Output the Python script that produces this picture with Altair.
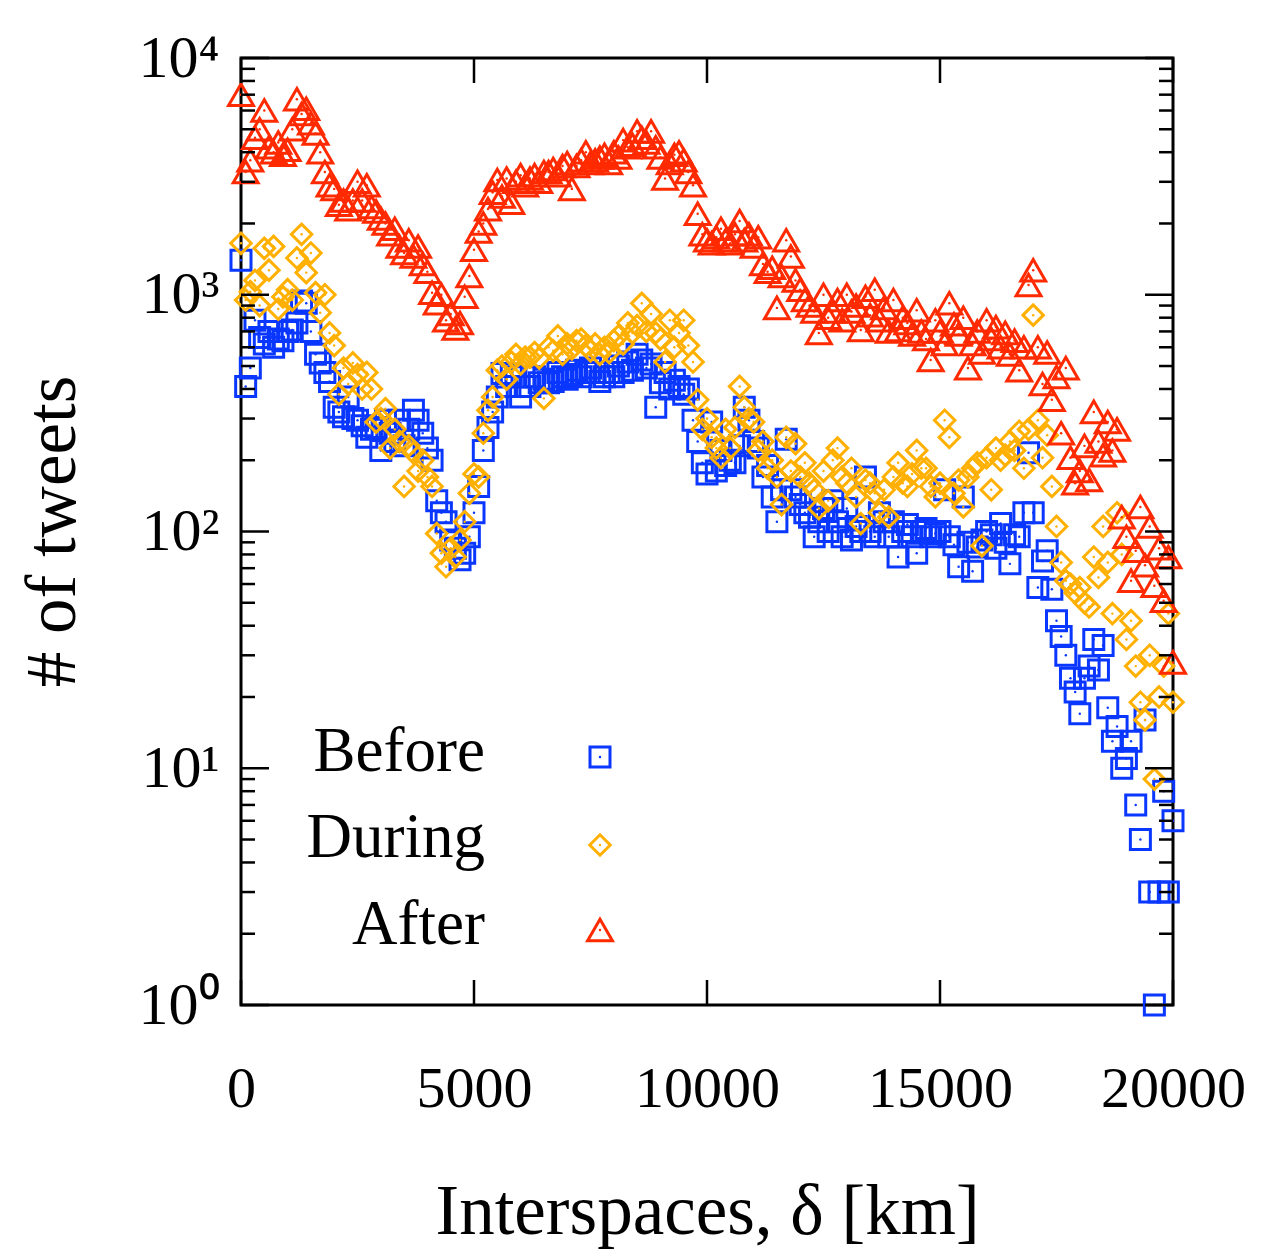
import altair as alt
import pandas as pd

# ---------------- data ----------------
KM = list(range(0, 20001, 100))

BEFORE = [
    1400, 410, 490, 780, 660, 620, 700, 600, 650, 640,
    700, 710, 760, 940, 920, 700, 560, 515, 470, 430,
    335, 320, 305, 370, 300, 295, 280, 250, 270, 275,
    220, 295, 260, 240, 295, 230, 270, 325, 295, 260,
    225, 200, 135, 120, 110, 92, 85, 76, 81, 95,
    120, 155, 220, 275, 320, 370, 465, 410, 465, 450,
    370, 410, 410, 450, 425, 440, 425, 430, 470, 450,
    440, 460, 480, 450, 470, 490, 470, 430, 450, 470,
    450, 500, 470, 520, 480, 560, 530, 490, 510, 335,
    425, 470, 400, 435, 410, 380, 400, 295, 240, 195,
    175, 290, 180, 220, 190, 200, 195, 230, 335, 295,
    240, 225, 170, 190, 140, 110, 150, 245, 150, 140,
    130, 120, 115, 95, 110, 125, 100, 135, 110, 95,
    125, 92, 105, 100, 170, 100, 95, 120, 110, 95,
    110, 78, 100, 107, 95, 81, 100, 103, 95, 98,
    100, 150, 95, 88, 71, 140, 90, 68, 86, 92,
    100, 97, 85, 108, 90, 73, 97, 95, 120, 215,
    120, 58, 75, 83, 57, 42, 36, 30, 24, 21,
    17, 24, 27, 35, 26, 33, 18, 13, 15, 10,
    11, 13, 7, 5, 16, 3, 1, 3, 8, 3,
    6,
]

DURING = [
    1650, 950, 1030, 1150, 900, 1570, 1270, 1600, 870, 980,
    1050, 950, 1430, 1800, 1240, 1500, 1020, 840, 1000, 690,
    610, 380, 490, 420, 515, 460, 400, 470, 400, 290,
    300, 330, 225, 270, 240, 155, 230, 215, 180, 200,
    170, 155, 98, 81, 71, 85, 78, 92, 110, 145,
    175, 170, 260, 325, 370, 480, 500, 440, 520, 560,
    510, 545, 545, 570, 540, 365, 600, 580, 670, 560,
    620, 590, 640, 650, 610, 580, 620, 560, 600, 570,
    640, 670, 620, 760, 690, 740, 920, 700, 830, 690,
    650, 520, 780, 600, 690, 780, 610, 520, 360, 270,
    300, 250, 225, 205, 270, 225, 275, 410, 335, 300,
    290, 220, 240, 185, 200, 170, 130, 250, 180, 235,
    170, 195, 160, 150, 125, 180, 135, 200, 225, 170,
    160, 185, 140, 108, 165, 160, 145, 120, 150, 115,
    170, 195, 160, 155, 175, 220, 185, 185, 155, 140,
    160, 295, 250, 145, 165, 127, 170, 185, 195, 87,
    205, 150, 225, 200, 210, 240, 220, 265, 185, 270,
    820, 295, 205, 255, 155, 105, 74, 62, 60, 55,
    58, 50, 48, 78, 64, 105, 74, 45, 120, 80,
    35, 42, 27, 19, 16, 30, 9, 20, 27, 45,
    19,
]

AFTER = [
    7000, 3300, 3700, 4600, 5000, 6000, 4200, 4000, 4400, 3900,
    4100, 5000, 6700, 5800, 6100, 5300, 4800, 4000, 3300, 2900,
    2800, 2400, 2500, 2300, 2500, 3000, 2500, 2900, 2350, 2250,
    2100, 2000, 1800, 1900, 1600, 1500, 1700, 1450, 1600, 1350,
    1250, 1020, 920, 1000, 780, 830, 720, 760, 980, 1200,
    1550, 1850, 2000, 2300, 2700, 3050, 2600, 3100, 2450, 3000,
    3200, 2900, 3100, 3200, 3000, 3300, 3300, 3400, 3200, 3500,
    3600, 2800, 3500, 3700, 4000, 3600, 3700, 3800, 3900, 3600,
    4000, 3800, 4500, 4200, 4300, 4900, 4600, 4400, 4900, 4200,
    3800, 3100, 3600, 3900, 4000, 3700, 3300, 2900, 2200, 1800,
    1700, 1650, 1750, 1900, 1700, 1650, 1800, 2050, 1700, 1800,
    1600, 1750, 1350, 1250, 1300, 880, 1200, 1700, 1450, 1150,
    1050, 950, 900, 850, 690, 1000, 800, 850, 950, 780,
    1000, 850, 900, 710, 980, 820, 1050, 780, 880, 700,
    950, 710, 800, 760, 680, 860, 700, 650, 530, 780,
    700, 620, 920, 750, 680, 800, 490, 620, 700, 570,
    780, 650, 730, 600, 690, 560, 640, 480, 600, 1100,
    1270, 600, 420, 570, 360, 450, 260, 490, 205, 160,
    180, 230, 165, 320, 240, 210, 290, 220, 270, 115,
    95, 62, 83, 127, 72, 105, 59, 85, 51, 78,
    28,
]

SERIES = ["Before", "During", "After"]
VALUES = [BEFORE, DURING, AFTER]
COLORS = ["#0a37ff", "#ffb000", "#ff2a00"]
SHAPES = ["square", "diamond", "triangle-up"]
SIZES = [400, 420, 620]

X_TICKS = [0, 5000, 10000, 15000, 20000]
Y_MAJOR = [1, 10, 100, 1000, 10000]
Y_MINOR = [m * 10 ** e for e in range(4) for m in range(2, 10)]

# ---------------- layout ----------------
W, H = 932, 947
FONT = "Liberation Serif"

xscale = alt.Scale(domain=[0, 20000], nice=False, zero=False)
yscale = alt.Scale(type="log", domain=[1, 10000], nice=False)

y_label_expr = (
    "datum.value == 1 ? '10\u2070' : datum.value == 10 ? '10\u00b9' : "
    "datum.value == 100 ? '10\u00b2' : datum.value == 1000 ? '10\u00b3' : '10\u2074'"
)

x_axis = alt.Axis(
    values=X_TICKS, format="d", labelFont=FONT, labelFontSize=58, labelColor="black",
    labelPadding=55, labelFlush=False, labelOverlap=False, ticks=False, domain=False,
    grid=False, title="Interspaces, \u03b4 [km]", titleFont=FONT, titleFontSize=71,
    titleFontWeight="normal", titleColor="black", titleY=228, titleBaseline="alphabetic",
)
y_axis = alt.Axis(
    values=Y_MAJOR, labelExpr=y_label_expr, labelFont=FONT, labelFontSize=60,
    labelColor="black", labelPadding=22, labelFlush=False, labelOverlap=False,
    ticks=False, domain=False, grid=False, title="# of tweets", titleFont=FONT,
    titleFontSize=71, titleFontWeight="normal", titleColor="black", titleX=-167,
    titleY=473, titleAngle=270, titleBaseline="alphabetic",
)

X = alt.X("km:Q", scale=xscale, axis=x_axis)
Y = alt.Y("n:Q", scale=yscale, axis=y_axis)

layers = []
for name, vals, col, shp, sz in zip(SERIES, VALUES, COLORS, SHAPES, SIZES):
    df = pd.DataFrame({"km": KM, "n": vals})
    base = alt.Chart(df)
    layers.append(
        base.mark_point(shape=shp, size=sz, filled=False, stroke=col, strokeWidth=3, opacity=1)
        .encode(x=X, y=Y)
    )
    layers.append(
        base.mark_point(shape="circle", size=6, filled=True, color=col, opacity=1)
        .encode(x=X, y=Y)
    )

# ---------------- inward ticks (mirrored on all sides) ----------------
xt = alt.Chart(pd.DataFrame({"km": X_TICKS}))
for y0, y1 in [(H, H - 25), (0, 25)]:
    layers.append(
        xt.mark_rule(color="black", strokeWidth=2.5).encode(
            x=X, y=alt.value(y0), y2=alt.value(y1)
        )
    )
for ticks, ln in [(Y_MAJOR, 28), (Y_MINOR, 14)]:
    yt = alt.Chart(pd.DataFrame({"n": ticks}))
    for x0, x1 in [(0, ln), (W, W - ln)]:
        layers.append(
            yt.mark_rule(color="black", strokeWidth=2.5).encode(
                y=Y, x=alt.value(x0), x2=alt.value(x1)
            )
        )

# ---------------- legend (labels left, symbols right) ----------------
LEG_TEXT_Y = [694, 780, 867]
LEG_SYM_Y = [699, 787, 872]
for name, col, shp, sz, ty, sy in zip(SERIES, COLORS, SHAPES, SIZES, LEG_TEXT_Y, LEG_SYM_Y):
    ld = alt.Chart(pd.DataFrame({"t": [name]}))
    layers.append(
        ld.mark_text(align="right", baseline="middle", font=FONT, fontSize=63, color="black")
        .encode(text="t:N", x=alt.value(244), y=alt.value(ty))
    )
    layers.append(
        ld.mark_point(shape=shp, size=sz, filled=False, stroke=col, strokeWidth=3, opacity=1)
        .encode(x=alt.value(359), y=alt.value(sy))
    )
    layers.append(
        ld.mark_point(shape="circle", size=6, filled=True, color=col, opacity=1)
        .encode(x=alt.value(359), y=alt.value(sy))
    )

chart = (
    alt.layer(*layers)
    .properties(
        width=W, height=H,
        padding={"left": 241, "top": 58, "right": 104, "bottom": 247},
        autosize=alt.AutoSizeParams(type="none"),
        background="white",
    )
    .configure_view(stroke="black", strokeWidth=3)
)

chart.save("out.html", embed_options={"renderer": "svg", "actions": False})
